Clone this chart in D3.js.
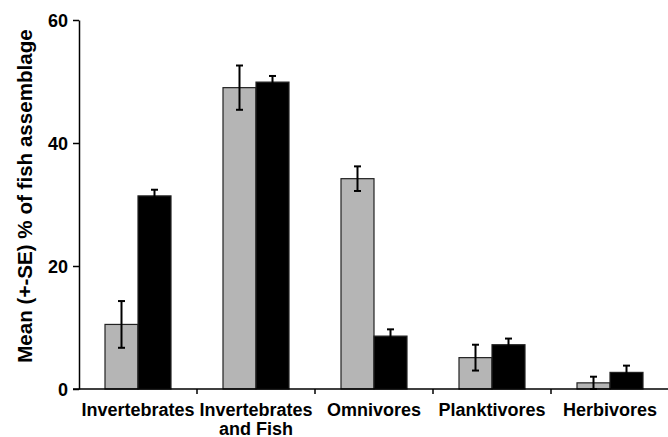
<!DOCTYPE html>
<html><head><meta charset="utf-8">
<script src="https://cdn.jsdelivr.net/npm/d3@7"></script>
<style>body{margin:0;background:#fff}svg{display:block}text{font-family:"Liberation Sans",Arial,sans-serif;font-weight:bold;fill:#000}</style>
</head><body>
<svg id="c" width="668" height="437"></svg>
<script>
const categories = ["Invertebrates", "Invertebrates and Fish", "Omnivores", "Planktivores", "Herbivores"];
const greyValues = [10.5, 49.0, 34.2, 5.1, 1.0];
const greySE = [3.8, 3.6, 2.0, 2.1, 1.0];
const blackValues = [31.4, 49.9, 8.6, 7.2, 2.7];
const blackSE = [1.0, 1.0, 1.1, 1.0, 1.1];
const yTicks = [0, 20, 40, 60];

const svg = d3.select("#c");
const y = d3.scaleLinear().domain([0, 60]).range([389, 20]);
const x = d3.scaleBand().domain(categories).range([79, 669]).padding(0);
const sub = d3.scaleBand().domain(["grey", "black"]).range([-33, 33]);

const series = [
  {key: "grey", vals: greyValues, se: greySE, fill: "#b5b5b5"},
  {key: "black", vals: blackValues, se: blackSE, fill: "#000"}
];

series.forEach(s => {
  const g = svg.append("g");
  categories.forEach((c, i) => {
    const cx = x(c) + x.bandwidth() / 2 + sub(s.key);
    g.append("rect").attr("x", cx).attr("width", sub.bandwidth())
      .attr("y", y(s.vals[i])).attr("height", y(0) - y(s.vals[i]))
      .attr("fill", s.fill).attr("stroke", "#222").attr("stroke-width", 1.2);
  });
});
series.forEach(s => {
  const g = svg.append("g");
  categories.forEach((c, i) => {
    const mx = x(c) + x.bandwidth() / 2 + sub(s.key) + sub.bandwidth() / 2;
    const hi = y(s.vals[i] + s.se[i]), lo = y(Math.max(0, s.vals[i] - s.se[i]));
    g.append("line").attr("x1", mx).attr("x2", mx).attr("y1", hi).attr("y2", lo).attr("stroke", "#000").attr("stroke-width", 2);
    g.append("line").attr("x1", mx - 3.5).attr("x2", mx + 3.5).attr("y1", hi).attr("y2", hi).attr("stroke", "#000").attr("stroke-width", 2);
    g.append("line").attr("x1", mx - 3.5).attr("x2", mx + 3.5).attr("y1", lo).attr("y2", lo).attr("stroke", "#000").attr("stroke-width", 2);
  });
});

// y axis
const ya = svg.append("g").attr("transform", "translate(79,0)")
  .call(d3.axisLeft(y).tickValues(yTicks).tickSize(6).tickSizeOuter(0).tickPadding(5));
ya.select(".domain").attr("stroke", "#000").attr("stroke-width", 1.5);
ya.selectAll(".tick line").attr("stroke", "#000").attr("stroke-width", 1.5);
ya.selectAll(".tick text").attr("font-size", 18).attr("font-family", '"Liberation Sans",Arial,sans-serif').attr("font-weight", "bold").attr("dy", "0.36em");

// x axis
const boundaries = categories.map(c => x(c)).concat([x(categories[categories.length - 1]) + x.bandwidth()]);
const xa = svg.append("g");
xa.append("line").attr("x1", 73).attr("x2", 669).attr("y1", y(0)).attr("y2", y(0)).attr("stroke", "#000").attr("stroke-width", 1.5);
boundaries.slice(1, -1).forEach(b => {
  xa.append("line").attr("x1", b).attr("x2", b).attr("y1", y(0)).attr("y2", y(0) + 5).attr("stroke", "#000").attr("stroke-width", 1.5);
});
categories.forEach(c => {
  const t = xa.append("text").attr("x", x(c) + x.bandwidth() / 2).attr("y", 416)
    .attr("text-anchor", "middle").attr("font-size", 18);
  const parts = c === "Invertebrates and Fish" ? ["Invertebrates", "and Fish"] : [c];
  parts.forEach((p, k) => t.append("tspan").attr("x", x(c) + x.bandwidth() / 2).attr("dy", k === 0 ? 0 : 18.5).text(p));
});

svg.append("text").attr("transform", "translate(32,196) rotate(-90)")
  .attr("text-anchor", "middle").attr("font-size", 20.6).text("Mean (+-SE) % of fish assemblage");
</script>
</body></html>
